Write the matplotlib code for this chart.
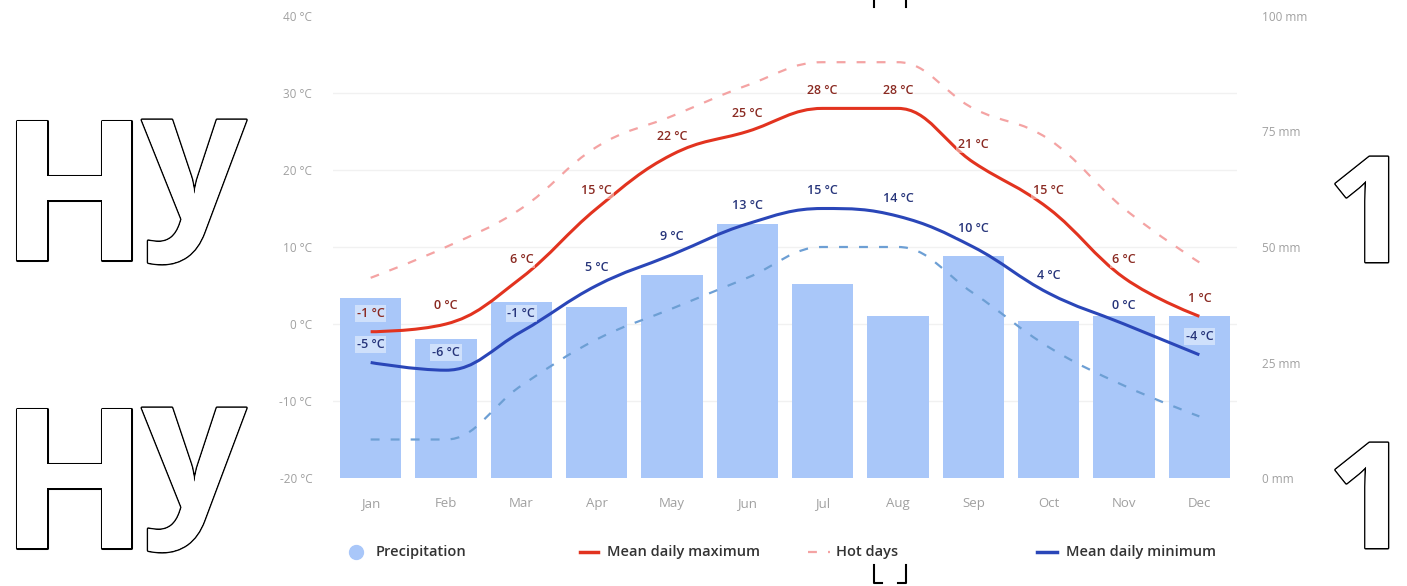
import numpy as np
import matplotlib
matplotlib.use("Agg")
import matplotlib.pyplot as plt
from matplotlib.path import Path
from matplotlib.patches import PathPatch
from matplotlib.lines import Line2D
import matplotlib.patheffects as pe

plt.rcParams['font.family'] = ['Open Sans', 'DejaVu Sans']

months = ['Jan', 'Feb', 'Mar', 'Apr', 'May', 'Jun', 'Jul', 'Aug', 'Sep', 'Oct', 'Nov', 'Dec']
precip_mm = [39, 30, 38, 37, 44, 55, 42, 35, 48, 34, 35, 35]
t_max = [-1, 0, 6, 15, 22, 25, 28, 28, 21, 15, 6, 1]
t_min = [-5, -6, -1, 5, 9, 13, 15, 14, 10, 4, 0, -4]
hot_days = [6, 10, 15, 23, 27, 31, 34, 34, 28, 24, 15, 8]
cold_nights = [-15, -15, -8, -2, 2, 6, 10, 10, 4, -3, -8, -12]
temp_ticks = [-20, -10, 0, 10, 20, 30, 40]
mm_ticks = [0, 25, 50, 75, 100]

C_BAR = '#a9c7f9'
C_MAX = '#e2331f'
C_MIN = '#2a46b8'
C_HOT = '#f4a3a3'
C_COLD = '#6d9fd4'
C_TICK = '#a0a0a0'

W, H = 1407, 586


def spline_path(xs, ys, smoothing=1.5):
    """Highcharts-style spline: cubic bezier through every point."""
    n = len(xs)
    den = smoothing + 1
    cont = [None] * n
    for i in range(1, n - 1):
        lx, ly = xs[i - 1], ys[i - 1]
        px, py = xs[i], ys[i]
        nx, ny = xs[i + 1], ys[i + 1]
        lcx = (smoothing * px + lx) / den
        lcy = (smoothing * py + ly) / den
        rcx = (smoothing * px + nx) / den
        rcy = (smoothing * py + ny) / den
        if rcx != lcx:
            corr = (rcy - lcy) * (rcx - px) / (rcx - lcx) + py - rcy
            lcy += corr
            rcy += corr
            if lcy > ly and lcy > py:
                lcy = max(ly, py); rcy = 2 * py - lcy
            elif lcy < ly and lcy < py:
                lcy = min(ly, py); rcy = 2 * py - lcy
            if rcy > ny and rcy > py:
                rcy = max(ny, py); lcy = 2 * py - rcy
            elif rcy < ny and rcy < py:
                rcy = min(ny, py); lcy = 2 * py - rcy
        cont[i] = (lcx, lcy, rcx, rcy)
    verts = [(xs[0], ys[0])]
    codes = [Path.MOVETO]
    for i in range(1, n):
        a = (cont[i - 1][2], cont[i - 1][3]) if cont[i - 1] else (xs[i - 1], ys[i - 1])
        b = (cont[i][0], cont[i][1]) if cont[i] else (xs[i], ys[i])
        verts += [a, b, (xs[i], ys[i])]
        codes += [Path.CURVE4] * 3
    return Path(verts, codes)


fig = plt.figure(figsize=(W / 100, H / 100), dpi=100)
ax2 = fig.add_axes([333 / W, (H - 478) / H, (1237 - 333) / W, 462 / H])
ax = ax2.twinx()
ax.set_zorder(ax2.get_zorder() + 1)
ax.patch.set_visible(False)

x = np.arange(len(months))

ax2.bar(x, precip_mm, width=0.81, color=C_BAR, zorder=2)
ax2.set_ylim(0, 100)
ax2.set_xlim(-0.5, 11.5)
ax2.set_yticks(mm_ticks)
ax2.yaxis.tick_right()
ax2.set_yticklabels([f'{v} mm' for v in mm_ticks])
ax2.tick_params(axis='y', length=0, pad=18, labelsize=8.5, labelcolor=C_TICK)
ax2.set_xticks(x)
ax2.set_xticklabels(months)
ax2.tick_params(axis='x', length=0, pad=14, labelsize=9.5, labelcolor=C_TICK)
for s in ax2.spines.values():
    s.set_visible(False)

ax.set_ylim(-20, 40)
ax.yaxis.tick_left()
ax.set_yticks(temp_ticks)
ax.set_yticklabels([f'{v} °C' for v in temp_ticks])
ax.tick_params(axis='y', length=0, pad=15, labelsize=8.5, labelcolor=C_TICK)
for s in ax.spines.values():
    s.set_visible(False)
for v in temp_ticks[1:-1]:
    ax2.axhline((v + 20) / 60 * 100, color='#f1f1f1', lw=1, zorder=1)

for ys, col, ls, lw in ((hot_days, C_HOT, (0, (4, 5)), 1.6),
                        (cold_nights, C_COLD, (0, (4, 5)), 1.6),
                        (t_max, C_MAX, '-', 2.2),
                        (t_min, C_MIN, '-', 2.2)):
    ax.add_patch(PathPatch(spline_path(list(x), ys), fill=False, edgecolor=col,
                           linestyle=ls, lw=lw, capstyle='butt', zorder=3))

for ys, col in ((t_max, '#8a2a22'), (t_min, '#26347a')):
    for xi, v in zip(x, ys):
        ax.annotate(f'{v} °C', (xi, v), xytext=(0, 13), textcoords='offset points',
                    ha='center', va='center', fontsize=9, color=col, fontweight='semibold',
                    bbox=dict(boxstyle='square,pad=0.15', fc='white', ec='none', alpha=0.45),
                    zorder=4)

# legend along the bottom
ly = 1 - 552 / H
fig.add_artist(Line2D([356 / W], [ly], marker='o', ms=10, color=C_BAR, lw=0))
fig.text(376 / W, ly, 'Precipitation', va='center', fontsize=10.5, color='#333333', fontweight='semibold')
fig.add_artist(Line2D([580 / W, 598 / W], [ly, ly], color=C_MAX, lw=2.5))
fig.text(607 / W, ly, 'Mean daily maximum', va='center', fontsize=10.5, color='#333333', fontweight='semibold')
fig.add_artist(Line2D([808 / W, 830 / W], [ly, ly], color=C_HOT, lw=1.6, ls=(0, (4, 5))))
fig.text(836 / W, ly, 'Hot days', va='center', fontsize=10.5, color='#333333', fontweight='semibold')
fig.add_artist(Line2D([1037 / W, 1057 / W], [ly, ly], color=C_MIN, lw=2.5))
fig.text(1066 / W, ly, 'Mean daily minimum', va='center', fontsize=10.5, color='#333333', fontweight='semibold')

# outlined glyphs overlaid on the page
outline = [pe.withStroke(linewidth=2.2, foreground='black'), pe.Normal()]
for base in (260, 548):
    fig.text(0, 1 - base / H, 'H', fontsize=140, family='Open Sans', fontweight='bold',
             color='white', va='baseline', path_effects=outline)
    fig.text(142 / W, 1 - (base - 40) / H, 'y', fontsize=132, family='Open Sans', fontweight='bold',
             color='white', va='baseline', path_effects=outline)
for base in (262, 548):
    fig.text(1327 / W, 1 - base / H, '1', fontsize=106, family='Open Sans', fontweight='bold',
             color='white', va='baseline', path_effects=outline)

for xp in (874, 906):
    fig.add_artist(Line2D([xp / W, xp / W], [1, 1 - 7 / H], color='black', lw=1.5))
fig.add_artist(Line2D([874 / W, 874 / W, 882 / W], [1 - 565 / H, 1 - 583 / H, 1 - 583 / H], color='black', lw=1.5))
fig.add_artist(Line2D([906 / W, 906 / W, 898 / W], [1 - 565 / H, 1 - 583 / H, 1 - 583 / H], color='black', lw=1.5))

fig.savefig('out.png', dpi=100, facecolor='white')
